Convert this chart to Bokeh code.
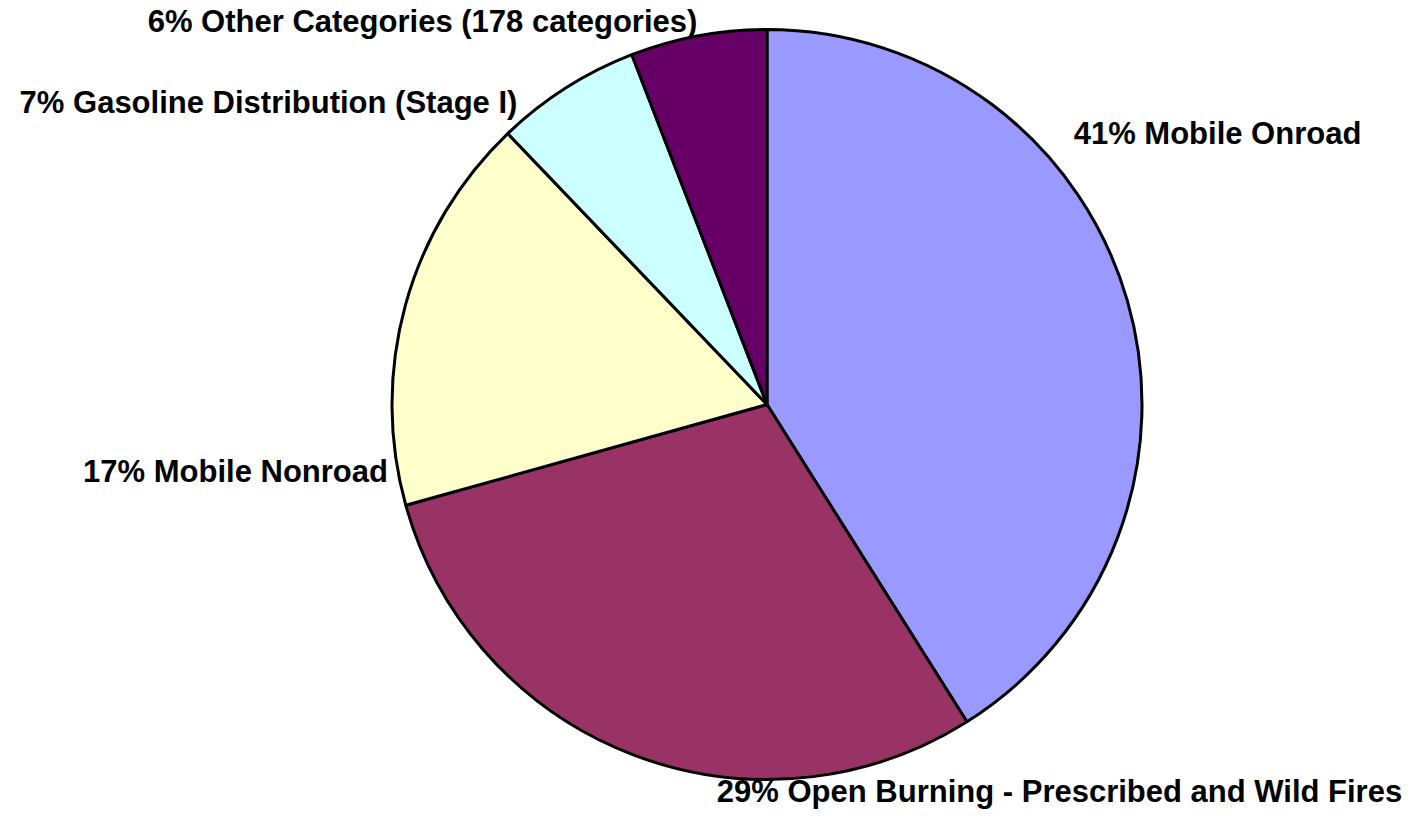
import math
from bokeh.plotting import figure
from bokeh.models import Range1d, ColumnDataSource
from bokeh.embed import file_html
from bokeh.resources import INLINE
from bokeh.core.properties import value

# ---- data ----
categories = ["Mobile Onroad", "Open Burning - Prescribed and Wild Fires",
              "Mobile Nonroad", "Gasoline Distribution (Stage I)",
              "Other Categories (178 categories)"]
shares = [41.05, 29.62, 17.18, 6.28, 5.87]
pct_labels = ["41%", "29%", "17%", "7%", "6%"]
colors = ["#9999FF", "#993366", "#FFFFCC", "#CCFFFF", "#660066"]

# ---- layout (picture pixel coordinates, y measured from top) ----
W, H = 1405, 809
REF_H = 825
cx, cy_top, radius = 766.5, 404.0, 375.0
label_cx = [1217, 1059, 235, 268, 422]
label_y_top = [133, 791, 471, 102, 21]

def py(y_top):
    return REF_H - y_top

total = sum(shares)
starts, ends = [], []
cum = 0.0
for s in shares:
    a0 = math.pi / 2 - 2 * math.pi * cum / total
    cum += s
    a1 = math.pi / 2 - 2 * math.pi * cum / total
    starts.append(a0)
    ends.append(a1)

src = ColumnDataSource(dict(
    x=[cx] * len(shares), y=[py(cy_top)] * len(shares),
    start=starts, end=ends, color=colors, cat=categories, share=shares))

p = figure(width=W, height=H, output_backend="svg", toolbar_location=None,
           x_range=Range1d(0, W), y_range=Range1d(REF_H - H, REF_H),
           min_border=0)
p.axis.visible = False
p.grid.visible = False
p.outline_line_color = None
p.background_fill_color = "white"

p.wedge(x="x", y="y", radius=radius, start_angle="start", end_angle="end",
        direction="clock", fill_color="color", line_color="black",
        line_width=3, source=src)

texts = [f"{pc} {c}" for pc, c in zip(pct_labels, categories)]
lsrc = ColumnDataSource(dict(x=label_cx, y=[py(v) for v in label_y_top], t=texts))
p.text(x="x", y="y", text="t", source=lsrc, text_font=value("Liberation Sans"),
       text_font_style="bold", text_font_size="31px", text_color="black",
       text_align="center", text_baseline="alphabetic")

open("out.html", "w").write(file_html(p, INLINE))
